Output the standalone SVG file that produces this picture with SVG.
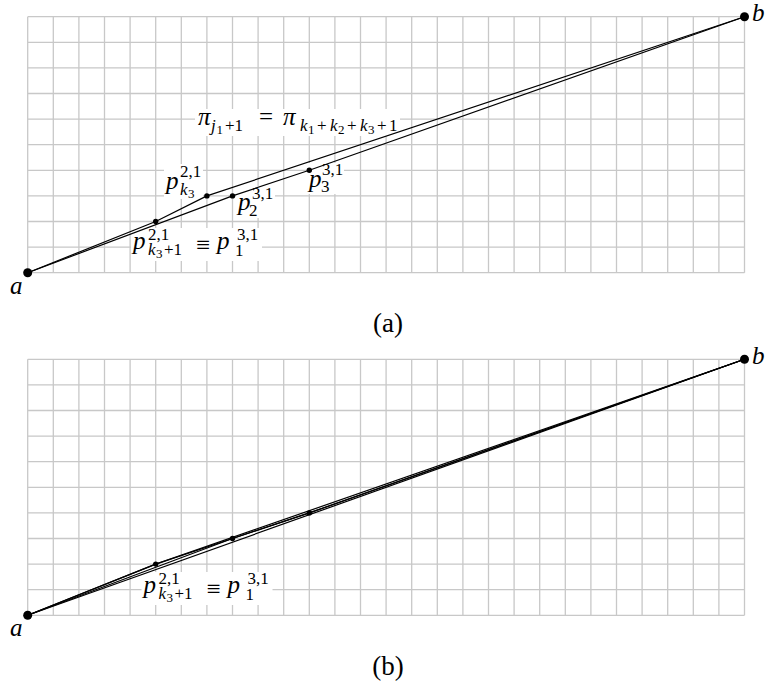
<svg xmlns="http://www.w3.org/2000/svg" xmlns:xlink="http://www.w3.org/1999/xlink" width="767" height="691" viewBox="0 0 767 691" font-family="'Liberation Serif', 'Times New Roman', Tinos, 'DejaVu Serif', serif">
<style>
.grid{fill:none;stroke:#c8c8c8;stroke-width:1.3}
.path{fill:none;stroke:#000;stroke-width:1.2;stroke-linejoin:round}
.dot{fill:#000}
.bg{fill:#fff}
.t{font-family:'Liberation Serif', 'Times New Roman', Tinos, 'DejaVu Serif', serif;fill:#000}
.m{font-size:25px}
.i{font-style:italic}
.s{font-size:17px}
.ss{font-size:13px}
.cap{font-size:27px}
</style>
<defs>
<path id="grid" class="grid" d="M0 0V256M25.6 0V256M51.2 0V256M76.8 0V256M102.4 0V256M128 0V256M153.6 0V256M179.2 0V256M204.8 0V256M230.4 0V256M256 0V256M281.6 0V256M307.2 0V256M332.8 0V256M358.4 0V256M384 0V256M409.6 0V256M435.2 0V256M460.8 0V256M486.4 0V256M512 0V256M537.6 0V256M563.2 0V256M588.8 0V256M614.4 0V256M640 0V256M665.6 0V256M691.2 0V256M716.8 0V256M0 0H716.8M0 25.6H716.8M0 51.2H716.8M0 76.8H716.8M0 102.4H716.8M0 128H716.8M0 153.6H716.8M0 179.2H716.8M0 204.8H716.8M0 230.4H716.8M0 256H716.8"/>
<g id="bigLabel" class="t">
<rect class="bg" x="131" y="228" width="131" height="33"/>
<text class="t m i" x="133" y="249">p</text>
<text class="t s" x="148" y="240">2,1</text>
<text class="t s i" x="148" y="255">k</text>
<text class="t ss" x="156" y="258">3</text>
<text class="t s" x="164" y="255">+1</text>
<text class="t m" x="196" y="253">≡</text>
<text class="t m i" x="217" y="249">p</text>
<text class="t s" x="237" y="240">3,1</text>
<text class="t s" x="235" y="256">1</text>
</g>
</defs>

<!-- panel (a) -->
<use xlink:href="#grid" href="#grid" x="27.7" y="16.7"/>

<g id="label-pi" class="t">
<rect class="bg" x="195" y="109" width="205" height="27"/>
<text class="t m i" x="198" y="125">π</text>
<text class="t s i" x="211" y="131">j</text>
<text class="t ss" x="216.5" y="134">1</text>
<text class="t s" x="225" y="131">+1</text>
<text class="t m" x="259" y="125">=</text>
<text class="t m i" x="283" y="125">π</text>
<text class="t s i" x="300" y="131">k</text>
<text class="t ss" x="308" y="134">1</text>
<text class="t s" x="317" y="131">+</text>
<text class="t s i" x="330" y="131">k</text>
<text class="t ss" x="338" y="134">2</text>
<text class="t s" x="347" y="131">+</text>
<text class="t s i" x="360" y="131">k</text>
<text class="t ss" x="368" y="134">3</text>
<text class="t s" x="377" y="131">+</text>
<text class="t s" x="389" y="131">1</text>
</g>

<g id="label-pk3" class="t">
<rect class="bg" x="164" y="164" width="39" height="35"/>
<text class="t m i" x="166" y="189">p</text>
<text class="t s" x="180" y="177">2,1</text>
<text class="t s i" x="180" y="195">k</text>
<text class="t ss" x="188" y="198">3</text>
</g>

<g id="label-p2" class="t">
<rect class="bg" x="236" y="186" width="39" height="32"/>
<text class="t m i" x="238" y="210">p</text>
<text class="t s" x="252" y="199">3,1</text>
<text class="t s" x="249" y="216">2</text>
</g>

<g id="label-p3" class="t">
<rect class="bg" x="307" y="163" width="37" height="31"/>
<text class="t m i" x="309" y="187">p</text>
<text class="t s" x="322" y="175">3,1</text>
<text class="t s" x="321" y="192">3</text>
</g>

<g id="label-shared-a">
<use xlink:href="#bigLabel" href="#bigLabel"/>
</g>

<g id="connectors-a">
<path class="path" d="M27.7 272.7L155.7 221.5L206.9 195.9L744.5 16.7"/>
<path class="path" d="M27.7 272.7L232.5 195.9L309.3 170.3L744.5 16.7"/>
</g>

<g id="node-a1"><circle class="dot" cx="27.7" cy="272.7" r="4.5"/><text class="t m i" x="10" y="294">a</text></g>
<g id="node-b1"><circle class="dot" cx="744.5" cy="16.7" r="4.5"/><text class="t m i" x="752" y="21">b</text></g>
<g id="node-p1a"><circle class="dot" cx="155.7" cy="221.5" r="2.7"/></g>
<g id="node-pk3a"><circle class="dot" cx="206.9" cy="195.9" r="2.7"/></g>
<g id="node-p2a"><circle class="dot" cx="232.5" cy="195.9" r="2.7"/></g>
<g id="node-p3a"><circle class="dot" cx="309.3" cy="170.3" r="2.7"/></g>

<text class="t cap" x="388" y="332" text-anchor="middle">(a)</text>

<!-- panel (b) -->
<use xlink:href="#grid" href="#grid" x="27.7" y="359.3"/>

<g id="label-shared-b" transform="translate(10.5 344)">
<use xlink:href="#bigLabel" href="#bigLabel"/>
</g>

<g id="connectors-b">
<path class="path" d="M27.7 615.3L155.7 564.1L232.5 538.5L309.3 512.9L744.5 359.3"/>
<path class="path" d="M27.7 615.3L155.7 564.1L744.5 359.3"/>
<path class="path" d="M27.7 615.3L232.5 538.5L309.3 512.9L744.5 359.3"/>
<path class="path" d="M27.7 615.3L744.5 359.3"/>
</g>

<g id="node-a2"><circle class="dot" cx="27.7" cy="615.3" r="4.5"/><text class="t m i" x="10" y="636">a</text></g>
<g id="node-b2"><circle class="dot" cx="744.5" cy="359.3" r="4.5"/><text class="t m i" x="752" y="364">b</text></g>
<g id="node-p1b"><circle class="dot" cx="155.7" cy="564.1" r="2.7"/></g>
<g id="node-p2b"><circle class="dot" cx="232.5" cy="538.5" r="2.7"/></g>
<g id="node-p3b"><circle class="dot" cx="309.3" cy="512.9" r="2.7"/></g>

<text class="t cap" x="388" y="675" text-anchor="middle">(b)</text>
</svg>
